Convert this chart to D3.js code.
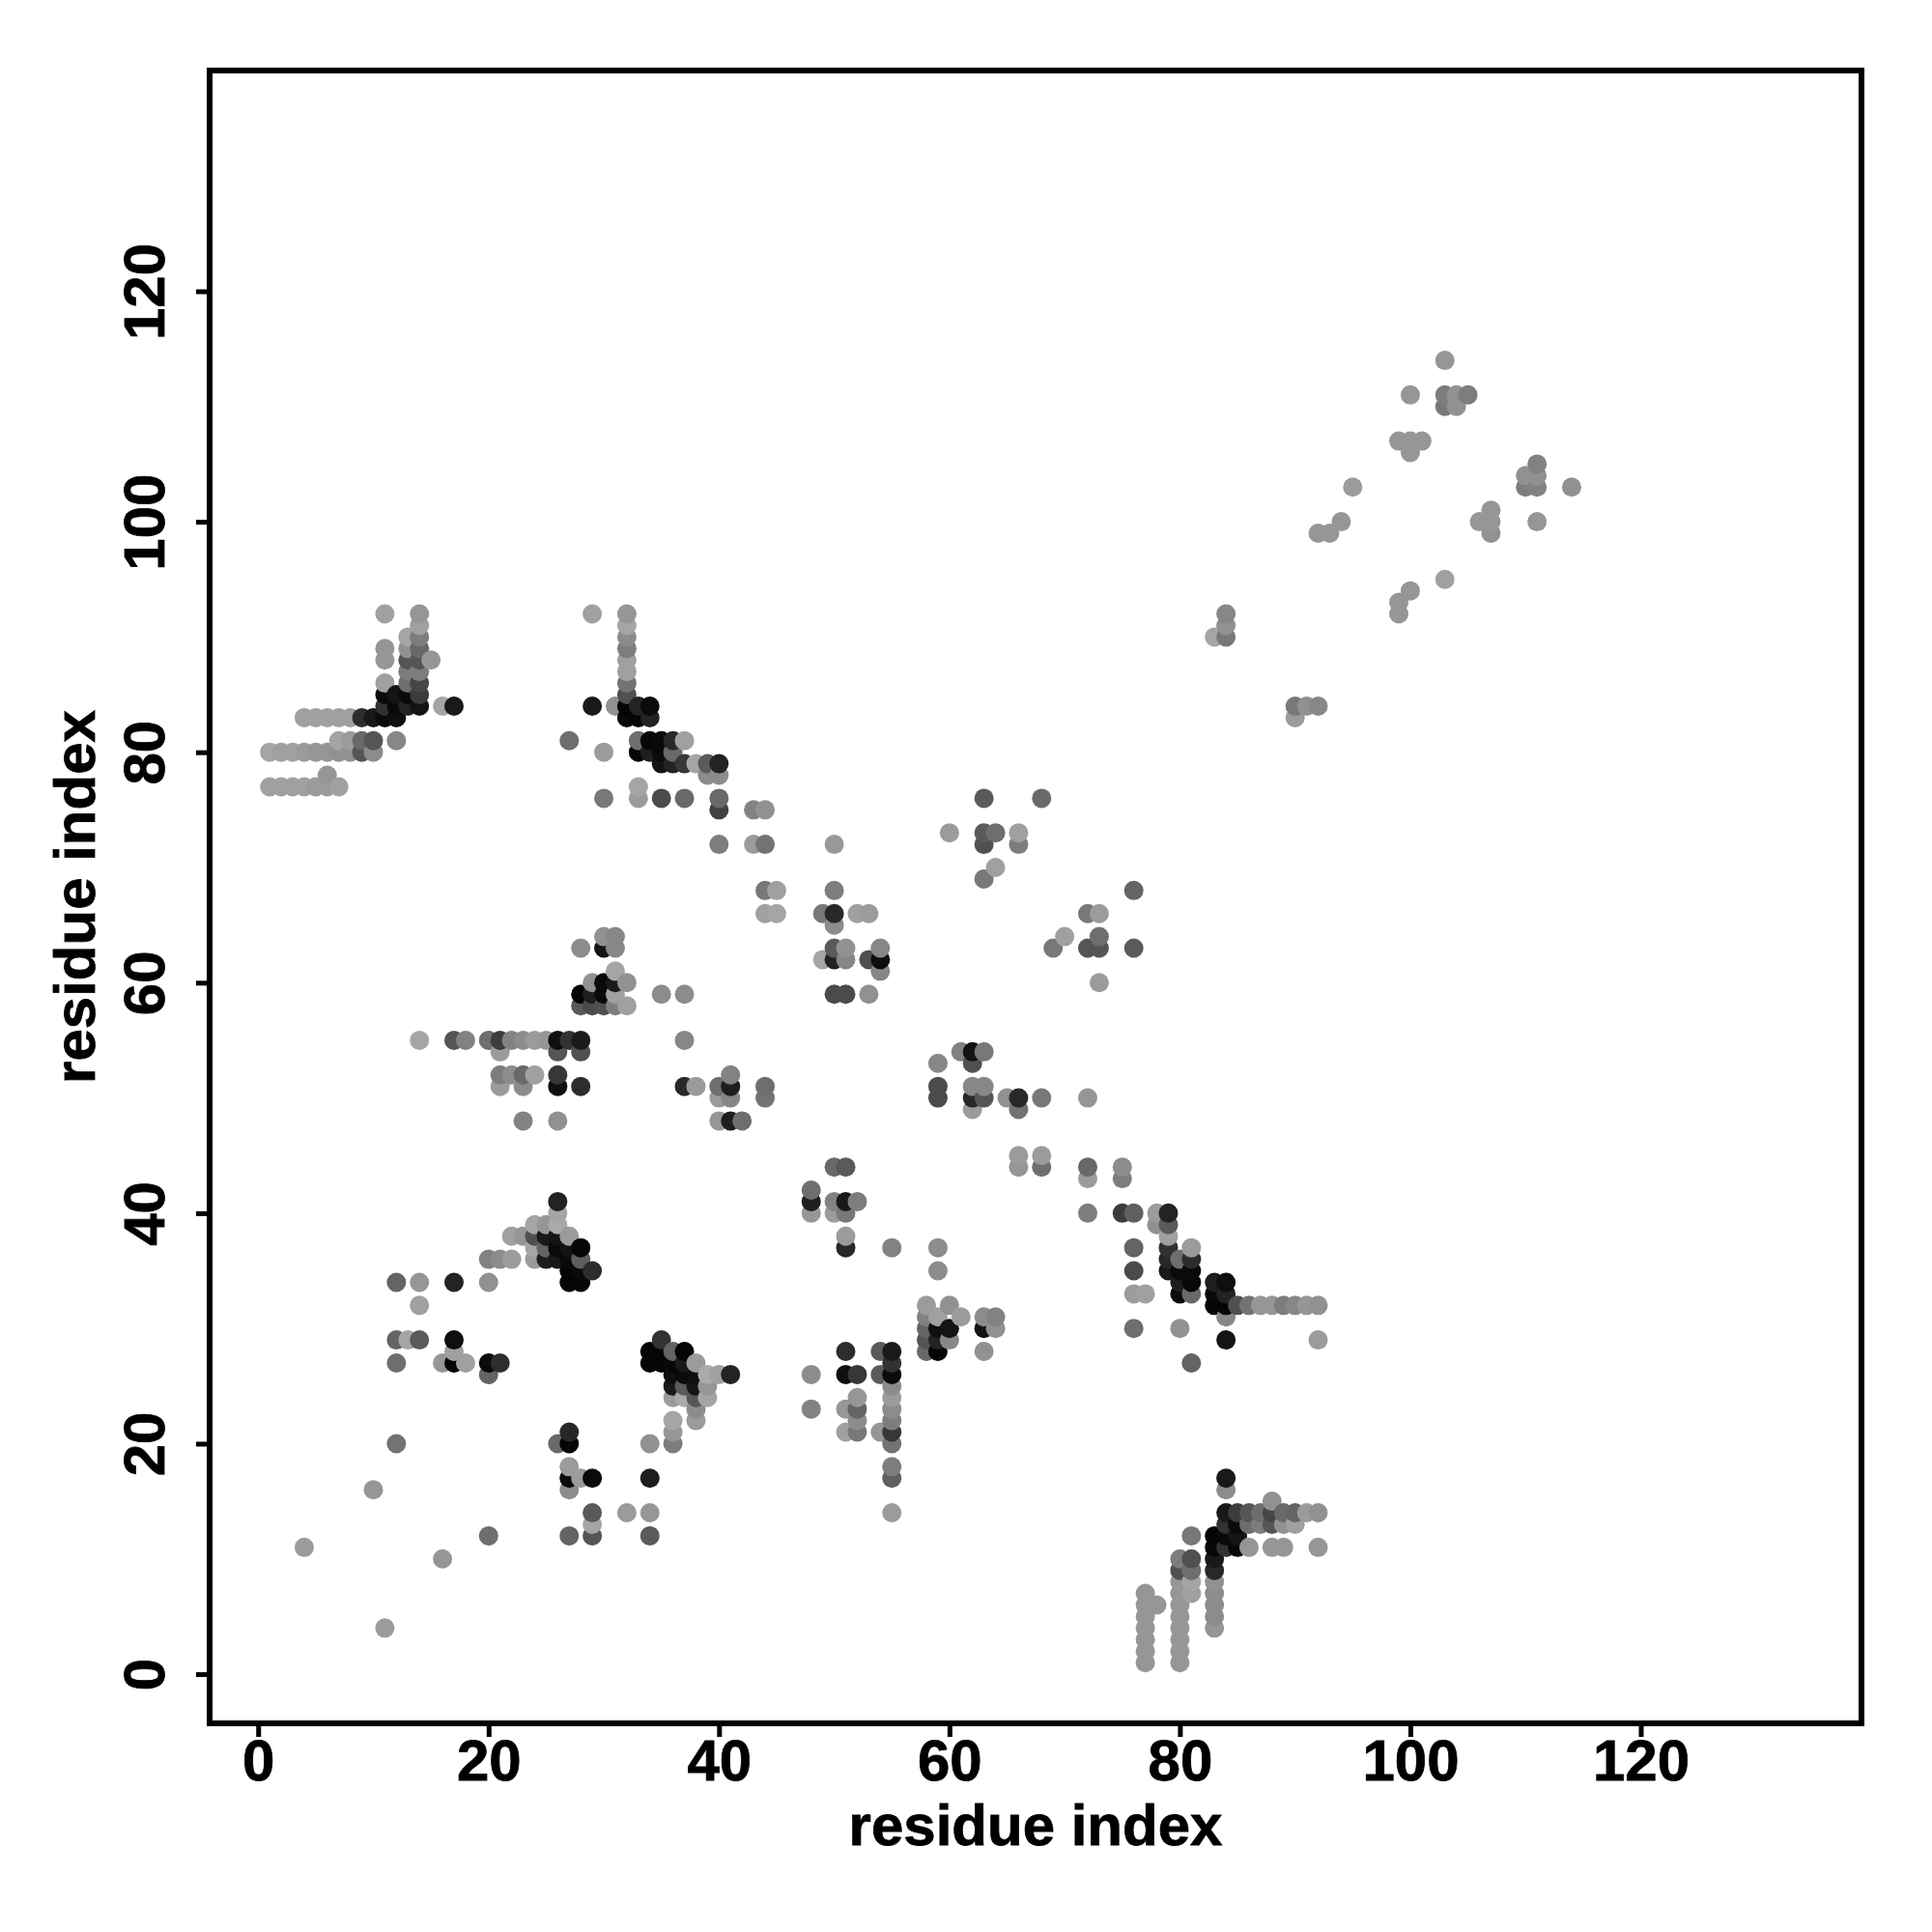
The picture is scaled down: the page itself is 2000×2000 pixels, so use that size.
<!DOCTYPE html>
<html><head><meta charset="utf-8">
<script src="https://cdnjs.cloudflare.com/ajax/libs/d3/7.8.5/d3.min.js"></script>
<style>html,body{margin:0;padding:0;background:#fff}svg{display:block}</style>
</head><body><svg id="c" width="2000" height="2000"></svg>
<script>
// each contact: [residue i, residue j, signal]
const clusterUpperLeft=[[11,92,10],[14,92,20],[14,91,10],[13,90,5],[14,90,45],[11,89,20],[13,89,25],[14,89,65],[11,88,20],[13,88,85],[14,88,85],[15,88,20],[13,87,45],[14,87,45],[11,86,10],[13,86,60],[14,86,100],[11,85,160],[12,85,150],[13,85,160],[14,85,110],[11,84,120],[12,84,160],[13,84,135],[14,84,150],[16,84,5],[17,84,145],[4,83,10],[5,83,10],[6,83,10],[7,83,10],[8,83,10],[9,83,125],[10,83,145],[11,83,160],[12,83,155],[7,81,5],[8,81,15],[9,81,65],[10,81,85],[12,81,35],[1,80,5],[2,80,10],[3,80,10],[4,80,15],[5,80,20],[6,80,20],[7,80,25],[8,80,25],[9,80,85],[10,80,30],[6,78,20],[1,77,10],[2,77,10],[3,77,10],[4,77,10],[5,77,15],[6,77,15],[7,77,10]];
const clusterUpperMid=[[29,92,10],[32,92,20],[32,91,5],[32,90,30],[32,89,45],[32,88,10],[32,87,10],[32,86,55],[32,85,90],[29,84,145],[31,84,25],[32,84,165],[33,84,135],[34,84,160],[32,83,160],[33,83,165],[34,83,135],[27,81,60],[33,81,60],[34,81,162],[35,81,160],[36,81,130],[37,81,10],[30,80,15],[33,80,165],[34,80,140],[35,80,160],[36,80,65],[35,79,150],[36,79,135],[37,79,115],[38,79,5],[39,79,80],[40,79,135],[39,78,30],[40,78,30],[33,77,5],[30,76,50],[33,76,15],[35,76,95],[37,76,65],[40,76,65],[40,75,105],[43,75,40],[44,75,25],[40,72,45],[43,72,15],[44,72,55],[50,72,18]];
const clusterMidTop=[[44,68,50],[45,68,10],[44,66,10],[45,66,5],[50,68,45],[49,66,50],[50,66,130],[52,66,10],[53,66,15],[50,65,30],[50,63,80],[51,63,25],[54,63,35],[49,62,5],[50,62,135],[51,62,35],[53,62,90],[54,62,155],[54,61,35],[50,59,95],[51,59,95],[53,59,25],[63,76,80],[68,76,65],[60,73,15],[63,73,80],[64,73,60],[66,73,10],[63,72,90],[66,72,45],[64,70,10],[63,69,50],[76,68,70],[72,66,50],[73,66,15],[70,64,10],[69,63,50],[73,64,60],[72,63,85],[73,63,85],[76,63,80],[73,60,15]];
const clusterSixties=[[30,64,25],[31,64,35],[28,63,30],[30,63,150],[31,63,35],[31,61,5],[29,60,25],[30,60,160],[31,60,145],[32,60,25],[28,59,165],[29,59,140],[30,59,160],[31,59,10],[28,58,80],[29,58,95],[30,58,90],[31,58,45],[32,58,10],[35,59,30],[37,59,30]];
const clusterFifties=[[14,55,5],[17,55,85],[18,55,40],[20,55,60],[21,55,110],[22,55,40],[23,55,30],[24,55,15],[25,55,20],[26,55,155],[27,55,120],[28,55,145],[37,55,35],[21,54,15],[26,54,85],[28,54,90],[21,52,45],[22,52,30],[23,52,65],[24,52,10],[26,52,115],[21,51,15],[23,51,30],[26,51,155],[28,51,125],[37,51,130],[38,51,15],[40,51,60],[41,51,140],[44,51,60],[41,52,40],[40,50,15],[41,50,35],[44,50,55],[23,48,40],[26,48,25],[40,48,20],[41,48,140],[42,48,60]];
const clusterMidRight=[[61,54,40],[62,54,150],[63,54,50],[59,53,35],[62,53,90],[59,51,95],[59,50,95],[62,51,35],[63,51,35],[62,50,130],[63,50,85],[62,49,15],[65,50,25],[66,50,130],[66,49,55],[68,50,50],[72,50,20],[66,45,15],[66,44,20],[68,45,15],[68,44,60],[72,44,65],[72,43,15],[75,44,30],[75,43,45],[72,40,45],[75,40,110],[76,40,75]];
const clusterDiagonal=[[78,40,15],[79,40,135],[78,39,25],[79,39,80],[79,38,10],[79,37,120],[81,37,15],[79,36,130],[80,36,60],[81,36,125],[79,35,145],[80,35,160],[81,35,160],[80,34,140],[81,34,162],[80,33,160],[81,33,65],[76,37,70],[76,35,95],[76,33,15],[77,33,10],[76,30,60],[80,30,25],[81,27,70],[83,34,140],[84,34,155],[83,33,160],[84,33,135],[83,32,165],[84,32,165],[85,32,90],[86,32,55],[87,32,20],[88,32,20],[89,32,45],[90,32,35],[91,32,20],[92,32,25],[84,31,35],[84,29,150],[92,29,15]];
const clusterForty=[[26,41,135],[26,40,5],[24,39,5],[25,39,20],[26,39,0],[22,38,10],[23,38,20],[24,38,90],[25,38,145],[26,38,150],[27,38,15],[24,37,5],[25,37,70],[26,37,160],[27,37,150],[28,37,165],[24,36,15],[25,36,140],[26,36,145],[27,36,160],[28,36,75],[27,35,165],[28,35,160],[29,35,125],[27,34,165],[28,34,165],[20,36,40],[21,36,30],[22,36,15],[12,34,70],[14,34,20],[17,34,135],[20,34,25],[14,32,10],[12,29,70],[13,29,5],[14,29,80],[17,29,155],[17,28,10],[12,27,60],[16,27,20],[17,27,165],[18,27,10],[20,27,160],[21,27,125],[20,26,70]];
const clusterTwenties=[[35,29,120],[34,28,165],[35,28,165],[36,28,70],[37,28,165],[34,27,165],[35,27,165],[36,27,162],[37,27,145],[38,27,15],[36,26,155],[37,26,160],[38,26,155],[39,26,0],[40,26,10],[41,26,135],[36,25,145],[37,25,80],[38,25,150],[39,25,20],[36,24,15],[37,24,0],[38,24,85],[39,24,5],[38,23,30],[38,22,15],[36,22,5],[36,21,20],[36,20,45],[34,20,25],[34,17,140],[32,14,15],[34,14,20],[34,12,80]];
const clusterFiftyColumn=[[48,42,60],[48,41,140],[48,40,20],[50,44,65],[51,44,80],[50,41,40],[51,41,145],[52,41,45],[50,40,15],[51,40,50],[51,38,15],[51,37,130],[55,37,40],[59,37,30],[59,35,30],[58,32,15],[60,32,25],[58,31,40],[59,31,10],[61,31,15],[63,31,30],[64,31,40],[58,30,70],[59,30,155],[60,30,150],[63,30,150],[64,30,25],[58,29,85],[59,29,135],[60,29,35],[58,28,65],[59,28,165],[63,28,25],[51,28,125],[54,28,80],[55,28,145],[55,27,120],[48,26,30],[51,26,155],[52,26,115],[54,26,80],[55,26,160],[55,25,30],[55,24,15],[52,24,20],[48,23,40],[51,23,20],[52,23,70],[55,23,30],[52,22,30],[55,22,45],[51,21,10],[52,21,50],[54,21,20],[55,21,115],[55,20,55],[55,18,45],[55,17,75],[55,14,15]];
const clusterLowerRight=[[84,17,145],[84,16,30],[88,15,25],[84,14,145],[85,14,110],[86,14,85],[87,14,60],[88,14,100],[89,14,65],[90,14,70],[91,14,15],[92,14,25],[84,13,120],[85,13,160],[86,13,60],[87,13,45],[88,13,85],[89,13,25],[90,13,10],[83,12,165],[84,12,160],[85,12,150],[81,12,50],[83,11,162],[84,11,120],[85,11,162],[86,11,20],[88,11,20],[89,11,20],[92,11,20],[83,10,145],[83,9,130],[80,10,45],[81,10,90],[80,9,90],[81,9,60],[83,8,25],[83,7,30],[83,6,30],[83,5,30],[83,4,20],[80,8,20],[81,8,5],[80,7,20],[81,7,10],[80,6,20],[80,5,20],[80,4,20],[80,3,20],[80,2,20],[80,1,20],[77,7,20],[77,6,20],[77,5,20],[77,4,20],[77,3,20],[77,2,20],[77,1,20],[78,6,20]];
const clusterUpperRight=[[103,114,20],[100,111,20],[103,111,45],[104,111,25],[105,111,45],[103,110,50],[104,110,25],[99,107,20],[100,107,20],[101,107,20],[100,106,20],[111,105,40],[110,104,25],[111,104,25],[110,103,45],[111,103,40],[114,103,25],[111,100,20],[95,103,15],[94,100,20],[92,99,20],[93,99,20],[107,101,20],[106,100,20],[107,100,20],[107,99,25],[103,95,10],[100,94,20],[99,93,20],[99,92,20],[84,92,35],[84,91,25],[84,90,50],[83,90,5],[90,84,50],[91,84,25],[92,84,35],[90,83,15]];
const clusterSparse=[[12,20,55],[10,16,20],[4,11,15],[16,10,20],[20,12,60],[27,12,70],[29,12,85],[29,13,5],[29,14,80],[11,4,15],[27,17,160],[28,17,15],[29,17,160],[27,16,30],[27,18,15],[26,20,65],[27,20,165],[27,21,130]];
const xTicks=[0,20,40,60,80,100,120];
const yTicks=[0,20,40,60,80,100,120];
const xLabel="residue index";
const yLabel="residue index";

const contacts=[clusterUpperLeft,clusterUpperMid,clusterMidTop,clusterSixties,clusterFifties,clusterMidRight,clusterDiagonal,clusterForty,clusterTwenties,clusterFiftyColumn,clusterLowerRight,clusterUpperRight,clusterSparse].flat()
  .sort((a,b)=>d3.ascending(a[0],b[0])||d3.ascending(a[1],b[1]));

const frame={l:217,r:1927,t:73,b:1784};
const x=d3.scaleLinear().domain([-4.17,139.2]).range([frame.l+0.5,frame.r+0.5]);
const y=d3.scaleLinear().domain([-4.27,139.07]).range([frame.b,frame.t+1]);
const shade=d3.scaleLinear().domain([0,170]).range(["#aaaaaa","#000000"]);
const FONT="'Liberation Sans',Arial,sans-serif";
const svg=d3.select("#c");
svg.append("rect").attr("width",2000).attr("height",2000).attr("fill","#fff");

svg.append("g").selectAll("circle").data(contacts).join("circle")
  .attr("cx",d=>x(d[0])).attr("cy",d=>y(d[1])).attr("r",10)
  .attr("fill",d=>shade(d[2]));

const gx=svg.append("g").attr("transform",`translate(0,${frame.b})`)
  .call(d3.axisBottom(x).tickValues(xTicks).tickSize(14).tickPadding(2).tickSizeOuter(0));
const gy=svg.append("g").attr("transform",`translate(${frame.l},0)`)
  .call(d3.axisLeft(y).tickValues(yTicks).tickSize(14).tickPadding(14).tickSizeOuter(0));
[gx,gy].forEach(g=>{
  g.select(".domain").remove();
  g.selectAll("line").attr("stroke","#000").attr("stroke-width",5);
  g.selectAll("text").attr("fill","#000").attr("stroke","#000").attr("stroke-width",0.8)
    .style("font-family",FONT).style("font-weight","bold").style("font-size","60px");
});
gy.selectAll(".tick text").attr("x",null).attr("y",null).attr("dy",null)
  .attr("text-anchor","middle")
  .attr("transform","translate(-47,0) rotate(-90)");

svg.append("rect").attr("x",frame.l).attr("y",frame.t)
  .attr("width",frame.r-frame.l).attr("height",frame.b-frame.t)
  .attr("fill","none").attr("stroke","#000").attr("stroke-width",6);

svg.append("text").attr("x",(frame.l+frame.r)/2).attr("y",1910).attr("text-anchor","middle")
  .attr("stroke","#000").attr("stroke-width",0.8)
  .style("font-family",FONT).style("font-weight","bold").style("font-size","60px").text(xLabel);
svg.append("text").attr("transform",`translate(98,${(frame.t+frame.b)/2}) rotate(-90)`).attr("text-anchor","middle")
  .attr("stroke","#000").attr("stroke-width",0.8)
  .style("font-family",FONT).style("font-weight","bold").style("font-size","60px").text(yLabel);
</script></body></html>
